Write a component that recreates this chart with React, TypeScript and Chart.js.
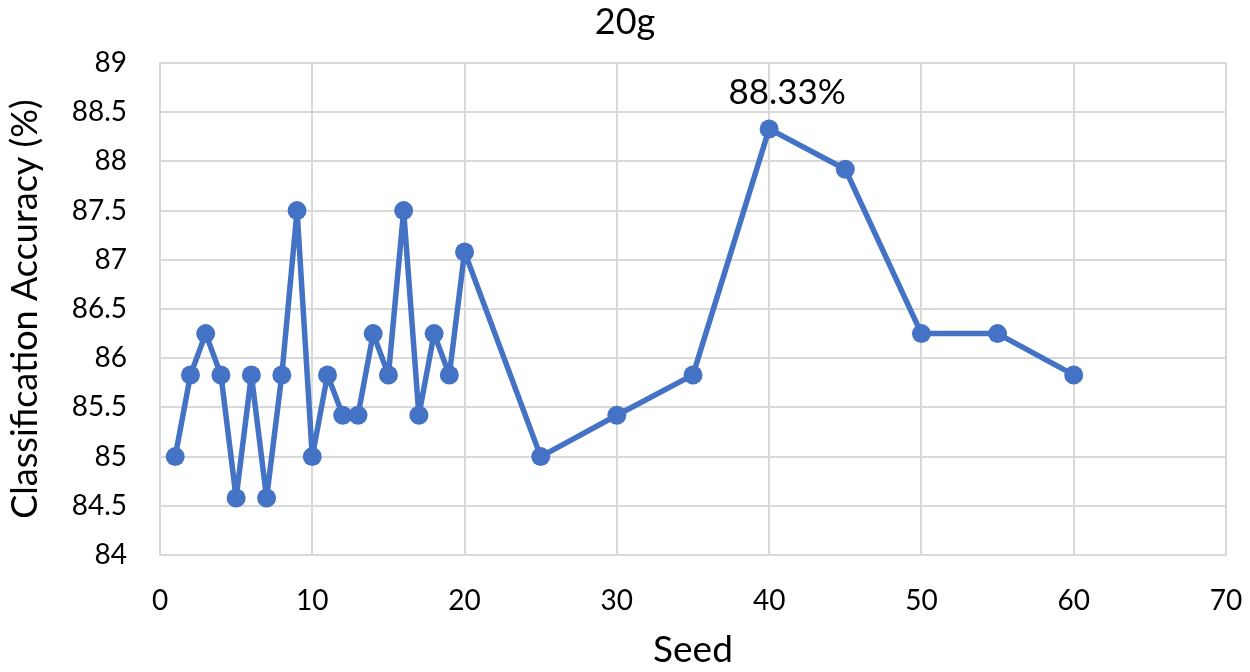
import React, { useEffect, useRef } from 'react';
import { Chart, registerables } from 'chart.js';

Chart.register(...registerables);

const seeds = [1, 2, 3, 4, 5, 6, 7, 8, 9, 10, 11, 12, 13, 14, 15, 16, 17, 18, 19, 20, 25, 30, 35, 40, 45, 50, 55, 60];
const accuracy = [85, 85.83, 86.25, 85.83, 84.58, 85.83, 84.58, 85.83, 87.5, 85, 85.83, 85.42, 85.42, 86.25, 85.83, 87.5, 85.42, 86.25, 85.83, 87.08, 85, 85.42, 85.83, 88.33, 87.92, 86.25, 86.25, 85.83];
const chartTitle = '20g';
const xAxisTitle = 'Seed';
const yAxisTitle = 'Classification Accuracy (%)';
const peakSeed = 40;
const peakLabel = '88.33%';

const FONT = 'Lato, "Noto Sans", sans-serif';
const LINE = '#4472C4';
const GRID = '#d9d9d9';

const textPlugin = {
  id: 'textPlugin',
  afterDatasetsDraw(chart: any) {
    const ctx = chart.ctx;
    ctx.save();
    ctx.fillStyle = '#000';
    ctx.textAlign = 'center';
    ctx.textBaseline = 'middle';
    ctx.font = `36px ${FONT}`;
    ctx.fillText(chartTitle, chart.width / 2, 22);
    const idx = seeds.indexOf(peakSeed);
    const el = chart.getDatasetMeta(0).data[idx];
    if (el) {
      ctx.font = `35px ${FONT}`;
      ctx.fillText(peakLabel, el.x + 18, el.y - 36);
    }
    ctx.restore();
  },
};

export default function App() {
  const ref = useRef<HTMLCanvasElement | null>(null);
  useEffect(() => {
    if (!ref.current) return;
    const chart = new Chart(ref.current, {
      type: 'line',
      data: {
        datasets: [
          {
            data: seeds.map((s, i) => ({ x: s, y: accuracy[i] })),
            borderColor: LINE,
            backgroundColor: LINE,
            borderWidth: 5.5,
            borderJoinStyle: 'round',
            borderCapStyle: 'round',
            pointRadius: 9.5,
            pointHoverRadius: 9.5,
            pointBorderWidth: 0,
            tension: 0,
          },
        ],
      },
      options: {
        animation: false,
        responsive: false,
        maintainAspectRatio: false,
        layout: { padding: { left: 4, right: 24, top: 63, bottom: 0 } },
        plugins: {
          legend: { display: false },
          tooltip: { enabled: false },
          title: { display: false },
        },
        scales: {
          x: {
            type: 'linear',
            min: 0,
            max: 70,
            ticks: {
              stepSize: 10,
              color: '#000',
              padding: 29,
              font: { family: FONT, size: 28 },
              maxRotation: 0,
            },
            grid: { color: GRID, lineWidth: 2, drawTicks: false },
            border: { display: true, color: GRID, width: 2 },
            title: {
              display: true,
              text: xAxisTitle,
              color: '#000',
              font: { family: FONT, size: 37 },
              padding: 0,
            },
            afterFit(scale: any) {
              scale.height = 117;
              scale.paddingLeft = 0;
              scale.paddingRight = 0;
            },
          },
          y: {
            min: 84,
            max: 89,
            ticks: {
              stepSize: 0.5,
              color: '#000',
              padding: 33,
              font: { family: FONT, size: 28 },
              callback: (v: any) => String(Number(v)),
            },
            grid: { color: GRID, lineWidth: 2, drawTicks: false },
            border: { display: true, color: GRID, width: 2 },
            title: {
              display: true,
              text: yAxisTitle,
              color: '#000',
              font: { family: FONT, size: 36 },
              padding: 0,
            },
            afterFit(scale: any) {
              scale.width = 156;
              scale.paddingTop = 0;
              scale.paddingBottom = 0;
            },
          },
        },
      },
      plugins: [textPlugin],
    });
    return () => chart.destroy();
  }, []);
  return (
    <div style={{ position: 'fixed', left: 0, top: 0, width: 1250, height: 672, background: '#fff' }}>
      <canvas ref={ref} width={1250} height={672} style={{ width: 1250, height: 672 }} />
    </div>
  );
}
